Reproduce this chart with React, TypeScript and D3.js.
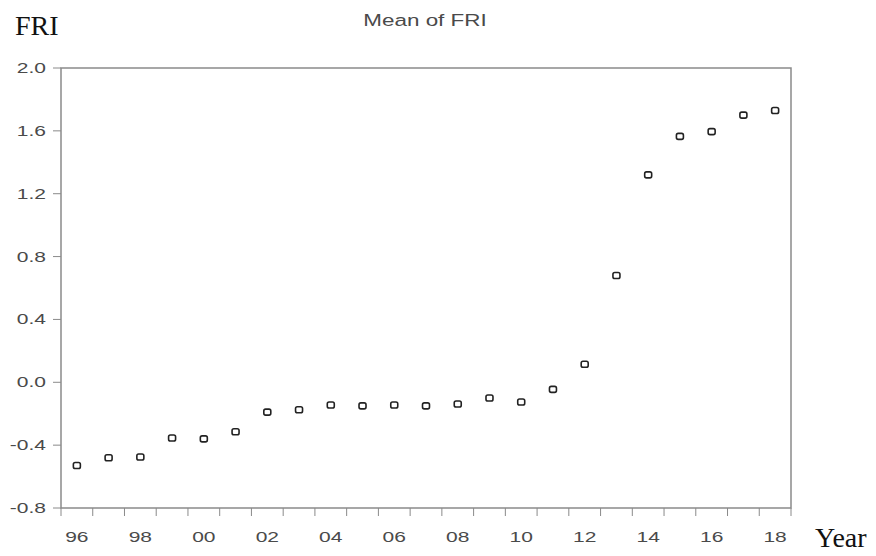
import { useEffect, useRef } from 'react';
import * as d3 from 'd3';

// Mean of FRI, 1996-2018
const years = [
  1996, 1997, 1998, 1999, 2000, 2001, 2002, 2003, 2004, 2005, 2006, 2007,
  2008, 2009, 2010, 2011, 2012, 2013, 2014, 2015, 2016, 2017, 2018,
];
const meanFri = [
  -0.53, -0.48, -0.475, -0.355, -0.36, -0.315, -0.19, -0.175, -0.145, -0.15,
  -0.145, -0.15, -0.138, -0.10, -0.125, -0.045, 0.115, 0.68, 1.32, 1.565,
  1.595, 1.70, 1.73,
];
const yTicks = [-0.8, -0.4, 0.0, 0.4, 0.8, 1.2, 1.6, 2.0];
const labelYears = [1996, 1998, 2000, 2002, 2004, 2006, 2008, 2010, 2012, 2014, 2016, 2018];

export default function App() {
  const svgRef = useRef<SVGSVGElement>(null);

  useEffect(() => {
    if (!svgRef.current) return;
    const svg = d3.select(svgRef.current);
    svg.selectAll('*').remove();

    const margin = { top: 68, right: 85, bottom: 48, left: 61 };
    const W = 876, H = 556;
    const width = W - margin.left - margin.right;
    const height = H - margin.top - margin.bottom;
    const axisColor = '#8a8a8a';
    const textColor = '#4a4a4a';
    const sans = 'Liberation Sans, Arial, sans-serif';
    const serif = 'Liberation Serif, Times New Roman, serif';
    // the picture's sans text is stretched sideways
    const stretch = 1.5;

    const x = d3.scaleBand<number>().domain(years).range([0, width]).padding(0);
    const y = d3.scaleLinear().domain([-0.8, 2.0]).range([height, 0]);

    const g = svg.append('g').attr('transform', `translate(${margin.left},${margin.top})`);

    // frame
    g.append('rect')
      .attr('x', 0).attr('y', 0)
      .attr('width', width).attr('height', height)
      .attr('fill', 'none')
      .attr('stroke', axisColor)
      .attr('stroke-width', 1.5);

    // y ticks + labels
    g.append('g').selectAll('line')
      .data(yTicks)
      .enter().append('line')
      .attr('x1', -8).attr('x2', 0)
      .attr('y1', d => y(d)).attr('y2', d => y(d))
      .attr('stroke', axisColor);

    g.append('g').selectAll('text')
      .data(yTicks)
      .enter().append('text')
      .attr('transform', d => `translate(-15,${y(d) + 5}) scale(${stretch},1)`)
      .attr('text-anchor', 'end')
      .attr('fill', textColor)
      .style('font-family', sans)
      .style('font-size', '14px')
      .text(d => d.toFixed(1));

    // x ticks at band boundaries
    const boundaries = years.map(d => x(d) as number).concat([width]);
    g.append('g').selectAll('line')
      .data(boundaries)
      .enter().append('line')
      .attr('x1', d => d).attr('x2', d => d)
      .attr('y1', height).attr('y2', height + 8)
      .attr('stroke', axisColor);

    g.append('g').selectAll('text')
      .data(labelYears)
      .enter().append('text')
      .attr('transform', d =>
        `translate(${(x(d) as number) + x.bandwidth() / 2},${height + 34}) scale(${stretch},1)`)
      .attr('text-anchor', 'middle')
      .attr('fill', textColor)
      .style('font-family', sans)
      .style('font-size', '14px')
      .text(d => String(d % 100).padStart(2, '0'));

    // markers
    g.append('g').selectAll('rect')
      .data(years.map((yr, i) => ({ yr, v: meanFri[i] })))
      .enter().append('rect')
      .attr('x', d => (x(d.yr) as number) + x.bandwidth() / 2 - 3.5)
      .attr('y', d => y(d.v) - 3)
      .attr('width', 7)
      .attr('height', 6)
      .attr('rx', 1.8)
      .attr('fill', 'white')
      .attr('stroke', '#222')
      .attr('stroke-width', 1.6);

    // titles
    svg.append('text')
      .attr('transform', 'translate(425,26) scale(1.32,1)')
      .attr('text-anchor', 'middle')
      .attr('fill', textColor)
      .style('font-family', sans)
      .style('font-size', '17px')
      .text('Mean of FRI');

    svg.append('text')
      .attr('x', 15).attr('y', 35)
      .attr('fill', '#111')
      .style('font-family', serif)
      .style('font-size', '28px')
      .text('FRI');

    svg.append('text')
      .attr('x', 815).attr('y', 547)
      .attr('fill', '#111')
      .style('font-family', serif)
      .style('font-size', '28px')
      .text('Year');
  }, []);

  return (
    <svg
      ref={svgRef}
      width={876}
      height={556}
      style={{ position: 'absolute', left: 0, top: 0, background: 'white' }}
    />
  );
}
